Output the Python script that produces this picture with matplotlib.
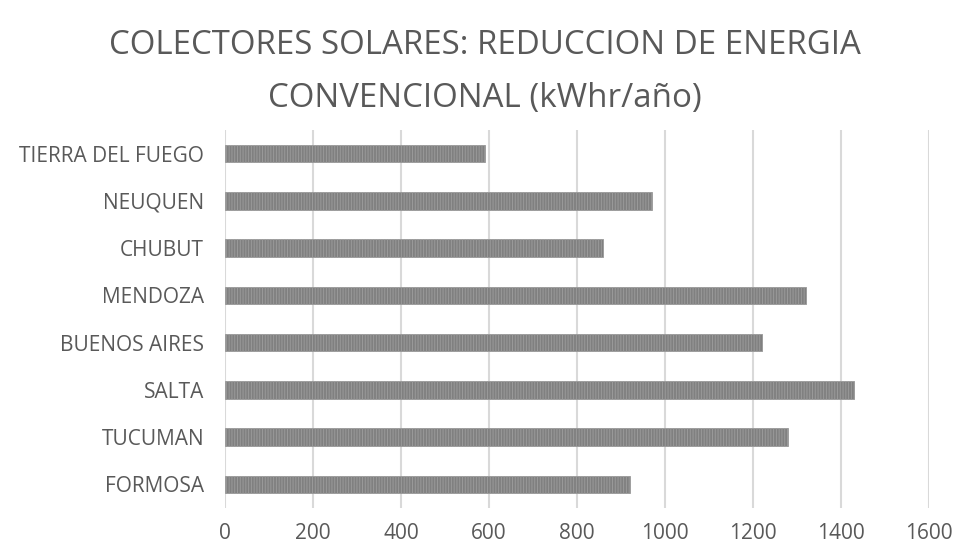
import matplotlib
matplotlib.use('Agg')
from matplotlib import pyplot as plt

# datos (kWhr/año)
provincias = ['FORMOSA', 'TUCUMAN', 'SALTA', 'BUENOS AIRES', 'MENDOZA',
              'CHUBUT', 'NEUQUEN', 'TIERRA DEL FUEGO']
reduccion = [920, 1280, 1430, 1220, 1320, 860, 970, 590]
xticks = [0, 200, 400, 600, 800, 1000, 1200, 1400, 1600]
titulo = ['COLECTORES SOLARES: REDUCCION DE ENERGIA', 'CONVENCIONAL (kWhr/año)']

plt.rcParams['font.family'] = ['Open Sans', 'DejaVu Sans']
plt.rcParams['hatch.color'] = '#6a6a6a'
plt.rcParams['hatch.linewidth'] = 0.7

fig = plt.figure(figsize=(9.54, 5.51), dpi=100)
ax = fig.add_axes([225/954, 1 - 508/551, (929-225)/954, (508-130)/551])

pos = list(range(len(provincias)))
ax.barh(pos, reduccion, height=0.37, color='#808080', hatch='||||||',
        edgecolor='#9a9a9a', linewidth=0.6, zorder=3)

ax.set_xlim(0, 1600)
ax.set_ylim(-0.5, len(provincias) - 0.5)
ax.set_xticks(xticks)
ax.set_xticklabels([str(t) for t in xticks])
ax.set_yticks(pos)
ax.set_yticklabels(provincias)

ax.grid(axis='x', color='#d9d9d9', linewidth=1.5, zorder=0)
for s in ax.spines.values():
    s.set_visible(False)
ax.tick_params(axis='both', length=0, colors='#595959', labelsize=15)
ax.tick_params(axis='x', pad=11)
ax.tick_params(axis='y', pad=15)

fig.text(0.508, 1 - 45/551, titulo[0], ha='center', va='center',
         fontsize=23.8, color='#595959')
fig.text(0.508, 1 - 99/551, titulo[1], ha='center', va='center',
         fontsize=23.8, color='#595959')

fig.savefig('out.png', dpi=100)
